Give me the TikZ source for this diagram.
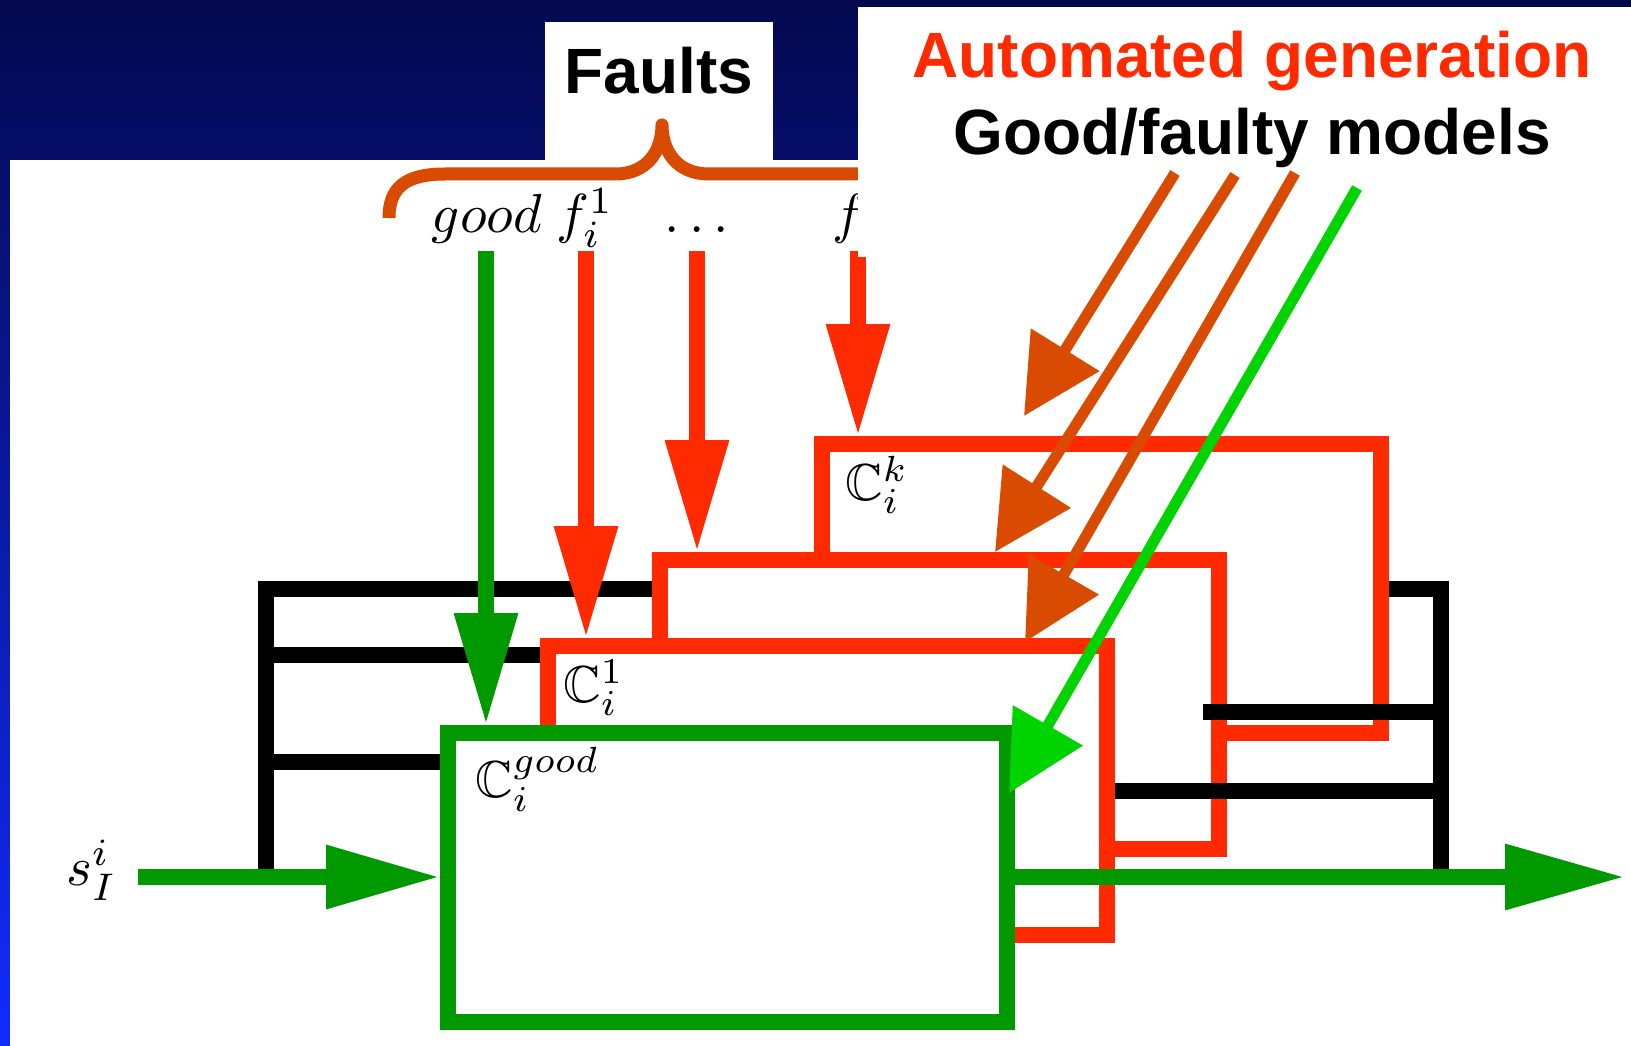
\documentclass[tikz,border=0pt]{standalone}
\usepackage{fontspec}
\setsansfont{Liberation Sans}
\usepackage{amssymb}
\usetikzlibrary{arrows.meta}
\definecolor{fred}{HTML}{FF2A00}
\definecolor{forange}{HTML}{D84B00}
\definecolor{fgreen}{HTML}{009900}
\definecolor{lgreen}{HTML}{00D400}
\definecolor{navytop}{RGB}{4,9,78}
\definecolor{bluebot}{RGB}{16,44,255}
\begin{document}
\begin{tikzpicture}[x=1pt,y=-1pt,
  box/.style={draw, line width=16pt, fill=white, minimum width=559pt, minimum height=289pt, inner sep=0pt, anchor=center},
  bus/.style={draw=black, line width=16pt},
  varrow/.style={line width=16pt, -{Triangle[length=112pt,width=60pt]}},
  darrow/.style={line width=11pt, -{Triangle[length=78pt,width=78pt]}},
  mlab/.style={inner sep=0pt, anchor=base},
  ttl/.style={font=\sffamily\bfseries\fontsize{64}{72}\selectfont, inner sep=0pt, anchor=base}
]
\useasboundingbox (0,0) rectangle (1631,1046);
% background
\shade[top color=navytop, bottom color=bluebot] (0,0) rectangle (1631,1046);
\fill[white] (10,160) rectangle (1631,1046);
\fill[white] (545,22) rectangle (773,160);
\node[ttl] (faults) at (659,94) {Faults};
% brace
\draw[forange, line width=13pt, line join=round]
  (389,218) .. controls (389,188) and (405,174) .. (445,174) -- (615,174)
  .. controls (648,174) and (662,150) .. (662,125)
  .. controls (662,150) and (676,174) .. (709,174) -- (879,174)
  .. controls (919,174) and (935,188) .. (935,218);
% fault labels
\node[mlab] (lgood) at (487,233) {\scalebox{5.5}{$good$}};
\node[mlab] (lf1) at (585,233) {\scalebox{5.5}{$f_i^1$}};
\node[mlab] (ldots) at (697,233) {\scalebox{5.5}{$\ldots$}};
\node[mlab] (lfk) at (862,233) {\scalebox{5.5}{$f_i^k$}};
\node[mlab, anchor=base west] (lin) at (66,885) {\scalebox{5.5}{$s_I^i$}};
% bus
\coordinate (busTL) at (266,589);
\coordinate (busTR) at (1441,589);
\coordinate (busBL) at (266,877);
\coordinate (busBR) at (1441,877);
\coordinate (bl1) at (266,655);
\coordinate (bl2) at (266,762);
\draw[bus] (busBL) -- (busTL) -- (busTR) -- (busBR);
\draw[bus] (bl1) -- (548,655);
\draw[bus] (bl2) -- (448,762);
% boxes
\node[box, draw=fred] (Ck) at (1101,588.5) {};
\node[box, draw=fred] (C2) at (939.5,704.5) {};
\node[box, draw=fred] (C1) at (827.5,790.5) {};
\node[box, draw=fgreen] (Cg) at (727.5,877.5) {};
\node[mlab, anchor=base west] (lCk) at (845,500) {\scalebox{5.2}{$\mathbb{C}_i^k$}};
\node[mlab, anchor=base west] (lC1) at (563,702) {\scalebox{5.2}{$\mathbb{C}_i^1$}};
\node[mlab, anchor=base west] (lCg) at (475,797) {\scalebox{5.2}{$\mathbb{C}_i^{good}$}};
% right-side outputs
\coordinate (o2) at (1203,712);
\coordinate (o1) at (1115,791);
\draw[bus] (o2) -- (busTR |- o2);
\draw[bus] (o1) -- (busTR |- o1);
% input / output
\coordinate (sin) at (138,877);
\coordinate (sout) at (1625,877);
\draw[varrow, fgreen, -{Triangle[length=114pt,width=60pt]}] (sin) -- (Cg.west |- sin);
\draw[varrow, fgreen, -{Triangle[length=120pt,width=62pt]}] (Cg.east |- sout) -- (sout);
% fault arrows
\coordinate (tg) at (486,251);
\coordinate (t1) at (586,251);
\coordinate (t2) at (697,251);
\coordinate (tk) at (858,251);
\draw[varrow, fgreen] (tg) -- (tg |- Cg.north);
\draw[varrow, fred] (t1) -- (t1 |- C1.north);
\draw[varrow, fred] (t2) -- (t2 |- C2.north);
\draw[varrow, fred] (tk) -- (tk |- Ck.north);
% automated generation
\fill[white] (858,7) rectangle (1631,257);
\node[ttl, text=fred] (auto) at (1252,78) {Automated generation};
\node[ttl] (gfm) at (1252,154) {Good/faulty models};
\coordinate (a1) at (1175,173); \coordinate (e1) at (1024,416);
\coordinate (a2) at (1235,175); \coordinate (e2) at (995,552);
\coordinate (a3) at (1295,173); \coordinate (e3) at (1025,642);
\coordinate (a4) at (1357,188); \coordinate (e4) at (1009,793);
\draw[darrow, forange] (a1) -- (e1);
\draw[darrow, forange] (a2) -- (e2);
\draw[darrow, forange] (a3) -- (e3);
\draw[darrow, lgreen] (a4) -- (e4);
\end{tikzpicture}
\end{document}
